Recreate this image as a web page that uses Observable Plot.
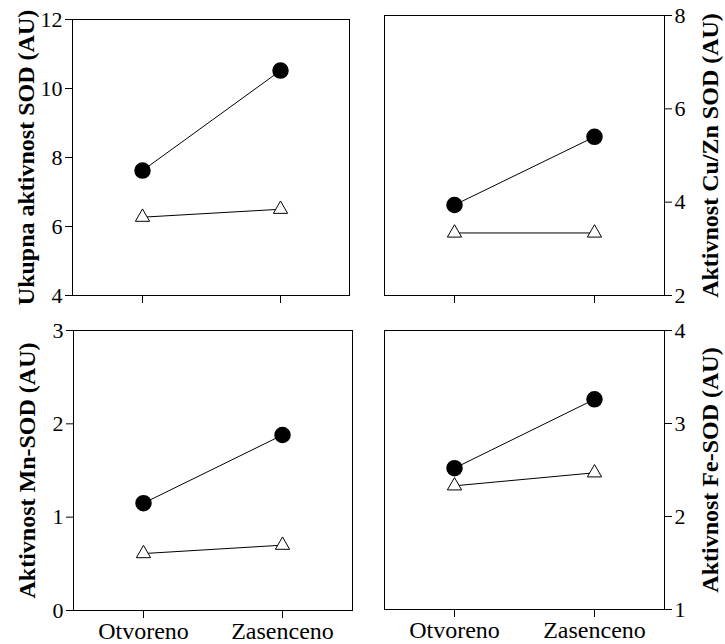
<!DOCTYPE html>
<html>
<head>
<meta charset="utf-8">
<script src="https://cdn.jsdelivr.net/npm/d3@7"></script>
<script src="https://cdn.jsdelivr.net/npm/@observablehq/plot@0.6"></script>
<style>
  html, body { margin: 0; padding: 0; background: #fff; }
  #wrap { position: relative; width: 725px; height: 644px; }
  .panel { position: absolute; }
  svg { font-family: "Liberation Serif", serif; }
</style>
</head>
<body>
<div id="wrap"></div>
<script>
const categories = ["Otvoreno", "Zasenceno"];

const ukupnaFilled = [7.62, 10.52];
const ukupnaOpen   = [6.27, 6.50];
const cuznFilled   = [3.94, 5.40];
const cuznOpen     = [3.34, 3.34];
const mnFilled     = [1.15, 1.88];
const mnOpen       = [0.61, 0.70];
const feFilled     = [2.52, 3.26];
const feOpen       = [2.33, 2.47];

const ukupnaTicks = [4, 6, 8, 10, 12];
const cuznTicks   = [2, 4, 6, 8];
const mnTicks     = [0, 1, 2, 3];
const feTicks     = [1, 2, 3, 4];

const labels = {
  ukupna: "Ukupna aktivnost SOD (AU)",
  cuzn: "Aktivnost Cu/Zn SOD (AU)",
  mn: "Aktivnost Mn-SOD (AU)",
  fe: "Aktivnost Fe-SOD (AU)"
};

const FONT = "Liberation Serif";

function rows(vals, series) {
  return categories.map((c, i) => ({cat: c, v: vals[i], series}));
}

function panel({filled, open, ticks, label, side, showX, box, margins}) {
  const data = [...rows(filled, "filled"), ...rows(open, "open")];
  const left = side === "left";
  const marks = [
    Plot.frame({stroke: "black", strokeWidth: 1}),
    Plot.line(data, {x: "cat", y: "v", z: "series", stroke: "black", strokeWidth: 1}),
    Plot.dot(data.filter(d => d.series === "filled"), {x: "cat", y: "v", r: 7.5, fill: "black", stroke: "black"}),
    Plot.dot(data.filter(d => d.series === "open"), {x: "cat", y: "v", symbol: "triangle", r: 5.3, fill: "white", stroke: "black", strokeWidth: 1}),
    Plot.axisY({anchor: side, ticks, tickFormat: d => String(d), tickSize: 7, tickPadding: 3, fontSize: 22, label: null, fontFamily: FONT}),
    Plot.axisX({anchor: "bottom", tickSize: 8, tickPadding: 3, fontSize: 24, label: null, fontFamily: FONT,
      tickFormat: showX ? (d => d) : (() => "")}),
    Plot.text([label], {
      frameAnchor: side, text: d => d, rotate: -90, textAnchor: "middle", lineAnchor: "middle",
      dx: left ? -46 : 46, fontSize: 24, fontWeight: "bold", fontFamily: FONT, fill: "black"
    })
  ];
  const chart = Plot.plot({
    width: box.w, height: box.h,
    marginLeft: margins.l, marginRight: margins.r, marginTop: margins.t, marginBottom: margins.b,
    x: {type: "point", domain: categories, padding: 0.5},
    y: {domain: [ticks[0], ticks[ticks.length - 1]]},
    style: {fontFamily: FONT, fontSize: "22px", color: "black", background: "white", overflow: "visible"},
    marks
  });
  const div = document.createElement("div");
  div.className = "panel";
  div.style.left = box.x + "px";
  div.style.top = box.y + "px";
  div.appendChild(chart);
  document.getElementById("wrap").appendChild(div);
}

panel({filled: ukupnaFilled, open: ukupnaOpen, ticks: ukupnaTicks, label: labels.ukupna, side: "left", showX: false,
  box: {x: 0, y: 0, w: 362, h: 318}, margins: {l: 72, r: 13, t: 19, b: 23}});
panel({filled: cuznFilled, open: cuznOpen, ticks: cuznTicks, label: labels.cuzn, side: "right", showX: false,
  box: {x: 362, y: 0, w: 363, h: 318}, margins: {l: 22, r: 61, t: 15, b: 23}});
panel({filled: mnFilled, open: mnOpen, ticks: mnTicks, label: labels.mn, side: "left", showX: true,
  box: {x: 0, y: 318, w: 362, h: 326}, margins: {l: 73, r: 10, t: 12, b: 34}});
panel({filled: feFilled, open: feOpen, ticks: feTicks, label: labels.fe, side: "right", showX: true,
  box: {x: 362, y: 318, w: 363, h: 326}, margins: {l: 22, r: 61, t: 12, b: 35}});
</script>
</body>
</html>
